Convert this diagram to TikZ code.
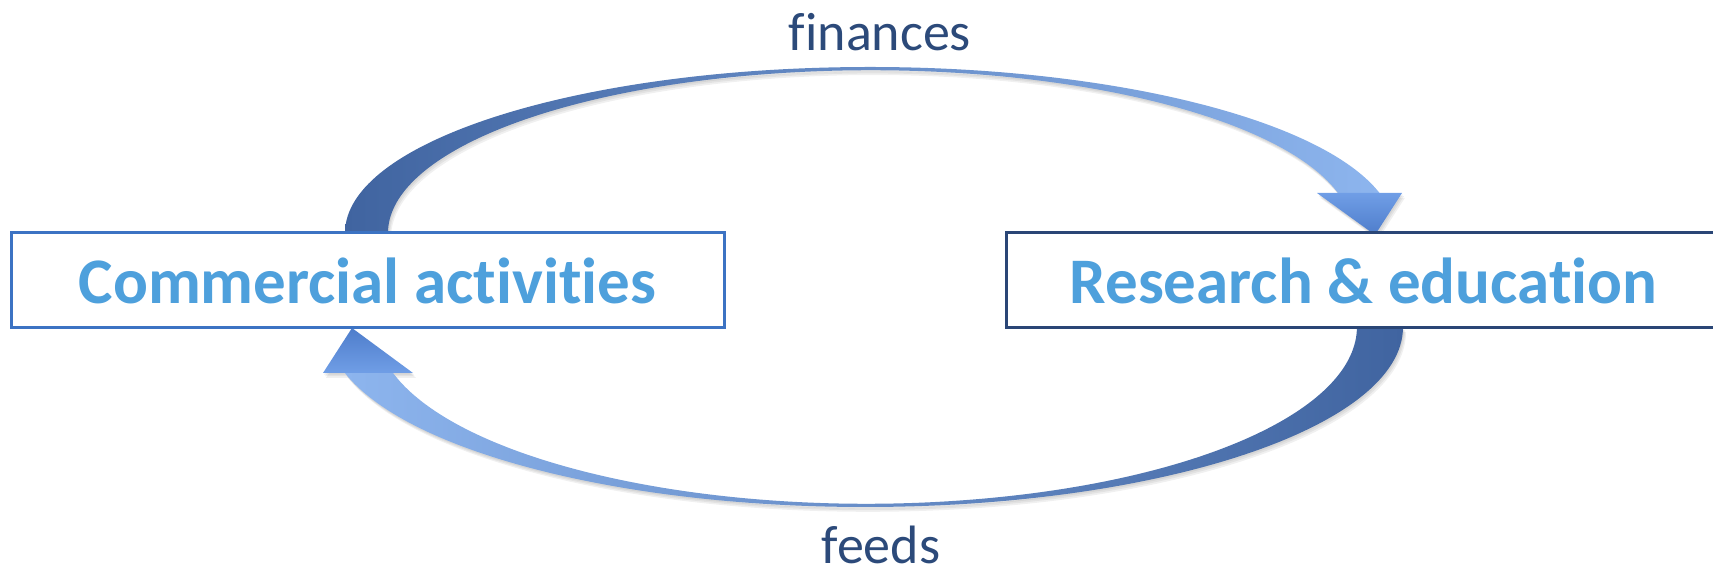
\documentclass[tikz,border=0pt]{standalone}
\usepackage{fontspec}
\newfontfamily\calib[Ligatures={NoCommon}]{Carlito}
\definecolor{boxtext}{RGB}{78,160,220}
\definecolor{labeltext}{RGB}{44,74,122}
\definecolor{lboxline}{RGB}{60,115,195}
\definecolor{rboxline}{RGB}{42,70,118}
\definecolor{arrdark}{RGB}{64,100,160}
\definecolor{arrlight}{RGB}{141,181,238}
\definecolor{headlight}{RGB}{112,158,230}
\definecolor{headdark}{RGB}{78,125,203}
\newcommand\topbandpath{(345,339) arc[start angle=180, end angle=13.94, x radius=525pt, y radius=166pt] -- (1338,379) arc[start angle=14.3, end angle=180, x radius=482.5pt, y radius=163pt] -- cycle}
\newcommand\topheadpath{(1317,379) -- (1402,379) -- (1375,337) -- cycle}
\newcommand\botbandpath{(1403,245) arc[start angle=0, end angle=-165.2, x radius=538pt, y radius=180pt] -- (393,199) arc[start angle=-164.85, end angle=0, x radius=490.5pt, y radius=177pt] -- cycle}
\newcommand\botheadpath{(323,199) -- (413,199) -- (352,244) -- cycle}
\begin{document}
\begin{tikzpicture}[x=1pt,y=1pt,
  boxnode/.style={draw, line width=3pt, fill=white, minimum width=713pt, minimum height=95pt, inner sep=0pt, text=boxtext, font=\calib\bfseries\fontsize{65}{70}\selectfont},
  lbl/.style={text=labeltext, font=\calib\fontsize{54}{60}\selectfont, inner sep=0pt, anchor=base},
  shadowfill/.style={fill=black, fill opacity=0.06}]
\useasboundingbox (0,0) rectangle (1713,572);
\clip (0,0) rectangle (1713,572);

% soft shadows
\foreach \s in {1,2,3}{
  \fill[shadowfill, shift={(\s,-1.6*\s)}] \topbandpath;
  \fill[shadowfill, shift={(\s,-1.6*\s)}] \topheadpath;
  \fill[shadowfill, shift={(\s,-1.6*\s)}] \botbandpath;
  \fill[shadowfill, shift={(\s,-1.6*\s)}] \botheadpath;
}

% top arrow (finances)
\shade[left color=arrdark, right color=arrlight] \topbandpath;
\shade[top color=headlight, bottom color=headdark] \topheadpath;

% bottom arrow (feeds)
\shade[left color=arrlight, right color=arrdark] \botbandpath;
\shade[bottom color=headlight, top color=headdark] \botheadpath;

% boxes
\node[boxnode, draw=lboxline] (comm) at (367.5,291.5) {Commercial activities};
\node[boxnode, draw=rboxline, minimum width=715pt] (res) at (1363.5,291.5) {Research \& education};

% labels
\node[lbl] (fin) at (880,521) {finances};
\node[lbl] (feeds) at (881,8) {feeds};
\end{tikzpicture}
\end{document}
